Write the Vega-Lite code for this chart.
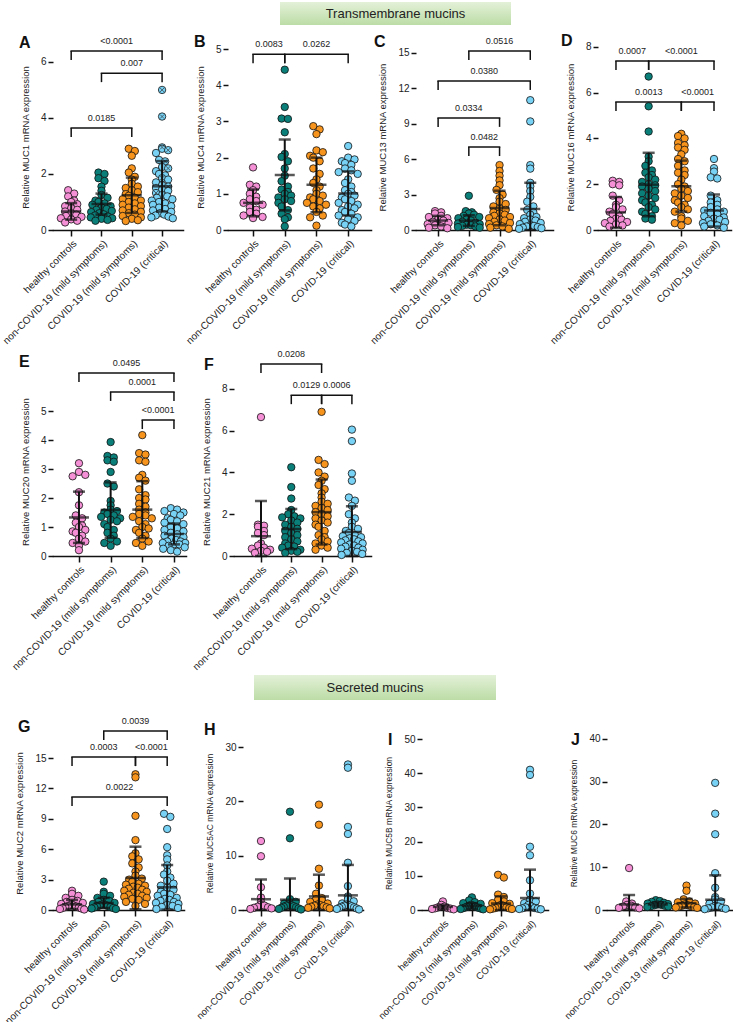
{
"$schema": "https://vega.github.io/schema/vega-lite/v6.json",
"background": "white",
"padding": {"left": 0, "top": 2, "right": 0, "bottom": 0},
"config": {
 "font": "Liberation Sans",
 "view": {"stroke": null},
 "axis": {"grid": false, "domainColor": "#111", "domainWidth": 1.5, "tickColor": "#111", "tickWidth": 1.5, "tickSize": 5, "labelColor": "#222", "labelFontSize": 10, "labelFont": "Liberation Sans", "titleFont": "Liberation Sans", "titleFontSize": 9.5, "titleFontWeight": "normal", "titleColor": "#222", "labelOverlap": false, "labelFlush": false, "labelPadding": 2},
 "axisX": {"labelAngle": -45, "tickSize": 6, "domain": true, "ticks": true, "domainCap": "square"},
 "axisY": {"domain": false, "titlePadding": 10},
 "title": {"fontSize": 16, "fontWeight": "bold", "color": "#111", "anchor": "start", "frame": "group", "offset": 0, "font": "Liberation Sans"}
},
"datasets": {
"st": [
{"p":"A","x":0,"y":0.66,"lo":0.37,"hi":0.96},{"p":"A","x":1,"y":0.93,"lo":0.55,"hi":1.3},{"p":"A","x":2,"y":1.24,"lo":0.61,"hi":1.87},{"p":"A","x":3,"y":1.56,"lo":0.66,"hi":2.46},
{"p":"B","x":0,"y":0.75,"lo":0.38,"hi":1.12},{"p":"B","x":1,"y":1.52,"lo":0.54,"hi":2.5},{"p":"B","x":2,"y":1.25,"lo":0.49,"hi":2.0},{"p":"B","x":3,"y":1.01,"lo":0.4,"hi":1.62},
{"p":"C","x":0,"y":0.8,"lo":0.4,"hi":1.2},{"p":"C","x":1,"y":0.8,"lo":0.35,"hi":1.25},{"p":"C","x":2,"y":1.86,"lo":0.4,"hi":3.33},{"p":"C","x":3,"y":1.78,"lo":0,"hi":4.0},
{"p":"D","x":0,"y":0.77,"lo":0.1,"hi":1.44},{"p":"D","x":1,"y":1.98,"lo":0.6,"hi":3.37},{"p":"D","x":2,"y":1.91,"lo":0.8,"hi":3.03},{"p":"D","x":3,"y":0.85,"lo":0.15,"hi":1.55},
{"p":"E","x":0,"y":1.33,"lo":0.45,"hi":2.22},{"p":"E","x":1,"y":1.59,"lo":0.63,"hi":2.54},{"p":"E","x":2,"y":1.6,"lo":0.62,"hi":2.58},{"p":"E","x":3,"y":0.76,"lo":0.4,"hi":1.12},
{"p":"F","x":0,"y":0.95,"lo":0,"hi":2.63},{"p":"F","x":1,"y":1.29,"lo":0.33,"hi":2.25},{"p":"F","x":2,"y":2.1,"lo":0.55,"hi":3.66},{"p":"F","x":3,"y":1.15,"lo":0,"hi":2.38},
{"p":"G","x":0,"y":0.55,"lo":0.1,"hi":1.0},{"p":"G","x":1,"y":0.7,"lo":0.2,"hi":1.2},{"p":"G","x":2,"y":3.16,"lo":0.07,"hi":6.25},{"p":"G","x":3,"y":2.24,"lo":0.04,"hi":4.44},
{"p":"H","x":0,"y":2.0,"lo":0,"hi":5.6},{"p":"H","x":1,"y":1.9,"lo":0,"hi":5.8},{"p":"H","x":2,"y":2.5,"lo":0,"hi":6.5},{"p":"H","x":3,"y":2.7,"lo":0,"hi":8.3},
{"p":"I","x":0,"y":0.9,"lo":0.2,"hi":1.5},{"p":"I","x":1,"y":1.2,"lo":0.4,"hi":2.0},{"p":"I","x":2,"y":1.9,"lo":0,"hi":4.0},{"p":"I","x":3,"y":3.5,"lo":0,"hi":11.8},
{"p":"J","x":0,"y":1.3,"lo":0,"hi":3.5},{"p":"J","x":1,"y":1.3,"lo":0.8,"hi":1.8},{"p":"J","x":2,"y":1.6,"lo":0.6,"hi":2.6},{"p":"J","x":3,"y":2.4,"lo":0,"hi":8.1}
],
"br": [
{"p":"A","a":0,"b":3,"y":6.39,"t":"<0.0001"},{"p":"A","a":1,"b":3,"y":5.6,"t":"0.007"},{"p":"A","a":0,"b":2,"y":3.64,"t":"0.0185"},
{"p":"B","a":0,"b":1,"y":4.86,"t":"0.0083"},{"p":"B","a":1,"b":3,"y":4.86,"t":"0.0262"},
{"p":"C","a":1,"b":3,"y":15.17,"t":"0.0516"},{"p":"C","a":0,"b":3,"y":12.63,"t":"0.0380"},{"p":"C","a":0,"b":2,"y":9.5,"t":"0.0334"},{"p":"C","a":1,"b":2,"y":7.03,"t":"0.0482"},
{"p":"D","a":0,"b":1,"y":7.38,"t":"0.0007"},{"p":"D","a":1,"b":3,"y":7.38,"t":"<0.0001"},{"p":"D","a":0,"b":2,"y":5.59,"t":"0.0013"},{"p":"D","a":2,"b":3,"y":5.59,"t":"<0.0001"},
{"p":"E","a":0,"b":3,"y":6.31,"t":"0.0495"},{"p":"E","a":1,"b":3,"y":5.66,"t":"0.0001"},{"p":"E","a":2,"b":3,"y":4.69,"t":"<0.0001"},
{"p":"F","a":0,"b":2,"y":9.19,"t":"0.0208"},{"p":"F","a":1,"b":2,"y":7.7,"t":"0.0129"},{"p":"F","a":2,"b":3,"y":7.7,"t":"0.0006"},
{"p":"G","a":1,"b":3,"y":17.67,"t":"0.0039"},{"p":"G","a":0,"b":2,"y":15.1,"t":"0.0003"},{"p":"G","a":2,"b":3,"y":15.1,"t":"<0.0001"},{"p":"G","a":0,"b":3,"y":11.15,"t":"0.0022"}
],
"pts": [
{"p":"A","g":0,"y":1.42},{"p":"A","g":0,"y":1.3},{"p":"A","g":0,"y":1.2},{"p":"A","g":0,"y":1.05},{"p":"A","g":0,"y":1.0},{"p":"A","g":0,"y":0.92},{"p":"A","g":0,"y":0.85},{"p":"A","g":0,"y":0.78},{"p":"A","g":0,"y":0.72},{"p":"A","g":0,"y":0.66},{"p":"A","g":0,"y":0.6},{"p":"A","g":0,"y":0.55},{"p":"A","g":0,"y":0.5},{"p":"A","g":0,"y":0.47},{"p":"A","g":0,"y":0.42},{"p":"A","g":0,"y":0.38},{"p":"A","g":0,"y":0.33},{"p":"A","g":0,"y":0.27},
{"p":"A","g":1,"y":2.05},{"p":"A","g":1,"y":2.0},{"p":"A","g":1,"y":1.85},{"p":"A","g":1,"y":1.75},{"p":"A","g":1,"y":1.55},{"p":"A","g":1,"y":1.4},{"p":"A","g":1,"y":1.25},{"p":"A","g":1,"y":1.15},{"p":"A","g":1,"y":1.05},{"p":"A","g":1,"y":1.0},{"p":"A","g":1,"y":0.95},{"p":"A","g":1,"y":0.9},{"p":"A","g":1,"y":0.85},{"p":"A","g":1,"y":0.8},{"p":"A","g":1,"y":0.75},{"p":"A","g":1,"y":0.72},{"p":"A","g":1,"y":0.68},{"p":"A","g":1,"y":0.64},{"p":"A","g":1,"y":0.6},{"p":"A","g":1,"y":0.56},{"p":"A","g":1,"y":0.52},{"p":"A","g":1,"y":0.48},{"p":"A","g":1,"y":0.45},{"p":"A","g":1,"y":0.42},{"p":"A","g":1,"y":0.4},{"p":"A","g":1,"y":0.36},{"p":"A","g":1,"y":0.33},
{"p":"A","g":2,"y":2.9},{"p":"A","g":2,"y":2.82},{"p":"A","g":2,"y":2.65},{"p":"A","g":2,"y":2.2},{"p":"A","g":2,"y":2.05},{"p":"A","g":2,"y":1.9},{"p":"A","g":2,"y":1.8},{"p":"A","g":2,"y":1.65},{"p":"A","g":2,"y":1.55},{"p":"A","g":2,"y":1.5},{"p":"A","g":2,"y":1.42},{"p":"A","g":2,"y":1.35},{"p":"A","g":2,"y":1.28},{"p":"A","g":2,"y":1.22},{"p":"A","g":2,"y":1.15},{"p":"A","g":2,"y":1.1},{"p":"A","g":2,"y":1.05},{"p":"A","g":2,"y":1.0},{"p":"A","g":2,"y":0.95},{"p":"A","g":2,"y":0.9},{"p":"A","g":2,"y":0.85},{"p":"A","g":2,"y":0.8},{"p":"A","g":2,"y":0.74},{"p":"A","g":2,"y":0.7},{"p":"A","g":2,"y":0.65},{"p":"A","g":2,"y":0.6},{"p":"A","g":2,"y":0.55},{"p":"A","g":2,"y":0.5},{"p":"A","g":2,"y":0.45},{"p":"A","g":2,"y":0.4},{"p":"A","g":2,"y":0.35},{"p":"A","g":2,"y":0.32},
{"p":"A","g":3,"y":5.0,"m":1},{"p":"A","g":3,"y":4.05,"m":1},{"p":"A","g":3,"y":2.95,"m":1},{"p":"A","g":3,"y":2.9},{"p":"A","g":3,"y":2.85,"m":1},{"p":"A","g":3,"y":2.75},{"p":"A","g":3,"y":2.5},{"p":"A","g":3,"y":2.45,"m":1},{"p":"A","g":3,"y":2.25},{"p":"A","g":3,"y":2.2,"m":1},{"p":"A","g":3,"y":2.1},{"p":"A","g":3,"y":2.0},{"p":"A","g":3,"y":1.95},{"p":"A","g":3,"y":1.85,"m":1},{"p":"A","g":3,"y":1.8},{"p":"A","g":3,"y":1.7},{"p":"A","g":3,"y":1.6},{"p":"A","g":3,"y":1.55,"m":1},{"p":"A","g":3,"y":1.5},{"p":"A","g":3,"y":1.45},{"p":"A","g":3,"y":1.4},{"p":"A","g":3,"y":1.32,"m":1},{"p":"A","g":3,"y":1.25},{"p":"A","g":3,"y":1.2},{"p":"A","g":3,"y":1.15},{"p":"A","g":3,"y":1.1},{"p":"A","g":3,"y":1.05},{"p":"A","g":3,"y":1.0},{"p":"A","g":3,"y":0.95},{"p":"A","g":3,"y":0.9},{"p":"A","g":3,"y":0.85},{"p":"A","g":3,"y":0.8},{"p":"A","g":3,"y":0.75},{"p":"A","g":3,"y":0.7},{"p":"A","g":3,"y":0.65},{"p":"A","g":3,"y":0.6},{"p":"A","g":3,"y":0.55},{"p":"A","g":3,"y":0.52},{"p":"A","g":3,"y":0.48},{"p":"A","g":3,"y":0.45},{"p":"A","g":3,"y":0.42},
{"p":"B","g":0,"y":1.73},{"p":"B","g":0,"y":1.25},{"p":"B","g":0,"y":1.2},{"p":"B","g":0,"y":1.1},{"p":"B","g":0,"y":1.0},{"p":"B","g":0,"y":0.92},{"p":"B","g":0,"y":0.85},{"p":"B","g":0,"y":0.8},{"p":"B","g":0,"y":0.75},{"p":"B","g":0,"y":0.7},{"p":"B","g":0,"y":0.62},{"p":"B","g":0,"y":0.56},{"p":"B","g":0,"y":0.5},{"p":"B","g":0,"y":0.45},{"p":"B","g":0,"y":0.4},{"p":"B","g":0,"y":0.36},{"p":"B","g":0,"y":0.33},
{"p":"B","g":1,"y":4.43},{"p":"B","g":1,"y":3.4},{"p":"B","g":1,"y":3.08},{"p":"B","g":1,"y":3.07},{"p":"B","g":1,"y":2.7},{"p":"B","g":1,"y":2.1},{"p":"B","g":1,"y":2.02},{"p":"B","g":1,"y":1.9},{"p":"B","g":1,"y":1.7},{"p":"B","g":1,"y":1.5},{"p":"B","g":1,"y":1.35},{"p":"B","g":1,"y":1.2},{"p":"B","g":1,"y":1.12},{"p":"B","g":1,"y":1.05},{"p":"B","g":1,"y":1.0},{"p":"B","g":1,"y":0.95},{"p":"B","g":1,"y":0.9},{"p":"B","g":1,"y":0.85},{"p":"B","g":1,"y":0.8},{"p":"B","g":1,"y":0.75},{"p":"B","g":1,"y":0.65},{"p":"B","g":1,"y":0.55},{"p":"B","g":1,"y":0.45},{"p":"B","g":1,"y":0.35},{"p":"B","g":1,"y":0.3},{"p":"B","g":1,"y":0.1},
{"p":"B","g":2,"y":2.87},{"p":"B","g":2,"y":2.78},{"p":"B","g":2,"y":2.65},{"p":"B","g":2,"y":2.2},{"p":"B","g":2,"y":2.15},{"p":"B","g":2,"y":2.05},{"p":"B","g":2,"y":2.0},{"p":"B","g":2,"y":1.9},{"p":"B","g":2,"y":1.7},{"p":"B","g":2,"y":1.55},{"p":"B","g":2,"y":1.4},{"p":"B","g":2,"y":1.3},{"p":"B","g":2,"y":1.2},{"p":"B","g":2,"y":1.1},{"p":"B","g":2,"y":1.0},{"p":"B","g":2,"y":0.95},{"p":"B","g":2,"y":0.9},{"p":"B","g":2,"y":0.85},{"p":"B","g":2,"y":0.8},{"p":"B","g":2,"y":0.75},{"p":"B","g":2,"y":0.7},{"p":"B","g":2,"y":0.65},{"p":"B","g":2,"y":0.6},{"p":"B","g":2,"y":0.5},{"p":"B","g":2,"y":0.4},{"p":"B","g":2,"y":0.35},{"p":"B","g":2,"y":0.12},
{"p":"B","g":3,"y":2.32},{"p":"B","g":3,"y":2.0},{"p":"B","g":3,"y":1.95},{"p":"B","g":3,"y":1.9},{"p":"B","g":3,"y":1.85},{"p":"B","g":3,"y":1.8},{"p":"B","g":3,"y":1.7},{"p":"B","g":3,"y":1.65},{"p":"B","g":3,"y":1.6},{"p":"B","g":3,"y":1.55},{"p":"B","g":3,"y":1.4},{"p":"B","g":3,"y":1.3},{"p":"B","g":3,"y":1.2},{"p":"B","g":3,"y":1.1},{"p":"B","g":3,"y":1.05},{"p":"B","g":3,"y":1.0},{"p":"B","g":3,"y":0.95},{"p":"B","g":3,"y":0.9},{"p":"B","g":3,"y":0.85},{"p":"B","g":3,"y":0.8},{"p":"B","g":3,"y":0.75},{"p":"B","g":3,"y":0.7},{"p":"B","g":3,"y":0.65},{"p":"B","g":3,"y":0.6},{"p":"B","g":3,"y":0.55},{"p":"B","g":3,"y":0.5},{"p":"B","g":3,"y":0.45},{"p":"B","g":3,"y":0.4},{"p":"B","g":3,"y":0.35},{"p":"B","g":3,"y":0.3},{"p":"B","g":3,"y":0.25},{"p":"B","g":3,"y":0.2},{"p":"B","g":3,"y":0.15},{"p":"B","g":3,"y":0.1},
{"p":"C","g":0,"y":1.6},{"p":"C","g":0,"y":1.5},{"p":"C","g":0,"y":1.4},{"p":"C","g":0,"y":1.2},{"p":"C","g":0,"y":1.1},{"p":"C","g":0,"y":1.0},{"p":"C","g":0,"y":0.9},{"p":"C","g":0,"y":0.8},{"p":"C","g":0,"y":0.7},{"p":"C","g":0,"y":0.6},{"p":"C","g":0,"y":0.5},{"p":"C","g":0,"y":0.4},{"p":"C","g":0,"y":0.3},{"p":"C","g":0,"y":0.2},{"p":"C","g":0,"y":0.15},
{"p":"C","g":1,"y":2.9},{"p":"C","g":1,"y":1.6},{"p":"C","g":1,"y":1.5},{"p":"C","g":1,"y":1.4},{"p":"C","g":1,"y":1.3},{"p":"C","g":1,"y":1.2},{"p":"C","g":1,"y":1.1},{"p":"C","g":1,"y":1.0},{"p":"C","g":1,"y":0.9},{"p":"C","g":1,"y":0.8},{"p":"C","g":1,"y":0.7},{"p":"C","g":1,"y":0.6},{"p":"C","g":1,"y":0.55},{"p":"C","g":1,"y":0.5},{"p":"C","g":1,"y":0.45},{"p":"C","g":1,"y":0.4},{"p":"C","g":1,"y":0.35},{"p":"C","g":1,"y":0.3},{"p":"C","g":1,"y":0.25},{"p":"C","g":1,"y":0.2},
{"p":"C","g":2,"y":5.5},{"p":"C","g":2,"y":5.0},{"p":"C","g":2,"y":4.6},{"p":"C","g":2,"y":4.2},{"p":"C","g":2,"y":3.8},{"p":"C","g":2,"y":3.4},{"p":"C","g":2,"y":3.0},{"p":"C","g":2,"y":2.7},{"p":"C","g":2,"y":2.4},{"p":"C","g":2,"y":2.2},{"p":"C","g":2,"y":2.0},{"p":"C","g":2,"y":1.8},{"p":"C","g":2,"y":1.7},{"p":"C","g":2,"y":1.5},{"p":"C","g":2,"y":1.4},{"p":"C","g":2,"y":1.3},{"p":"C","g":2,"y":1.2},{"p":"C","g":2,"y":1.1},{"p":"C","g":2,"y":1.0},{"p":"C","g":2,"y":0.9},{"p":"C","g":2,"y":0.8},{"p":"C","g":2,"y":0.7},{"p":"C","g":2,"y":0.6},{"p":"C","g":2,"y":0.5},{"p":"C","g":2,"y":0.4},{"p":"C","g":2,"y":0.3},{"p":"C","g":2,"y":0.2},{"p":"C","g":2,"y":0.1},
{"p":"C","g":3,"y":11.0},{"p":"C","g":3,"y":9.2},{"p":"C","g":3,"y":5.5},{"p":"C","g":3,"y":5.2},{"p":"C","g":3,"y":4.0},{"p":"C","g":3,"y":3.7},{"p":"C","g":3,"y":3.3},{"p":"C","g":3,"y":2.8},{"p":"C","g":3,"y":2.4},{"p":"C","g":3,"y":2.0},{"p":"C","g":3,"y":1.7},{"p":"C","g":3,"y":1.5},{"p":"C","g":3,"y":1.3},{"p":"C","g":3,"y":1.1},{"p":"C","g":3,"y":1.0},{"p":"C","g":3,"y":0.9},{"p":"C","g":3,"y":0.8},{"p":"C","g":3,"y":0.7},{"p":"C","g":3,"y":0.6},{"p":"C","g":3,"y":0.5},{"p":"C","g":3,"y":0.4},{"p":"C","g":3,"y":0.35},{"p":"C","g":3,"y":0.3},{"p":"C","g":3,"y":0.25},{"p":"C","g":3,"y":0.2},{"p":"C","g":3,"y":0.15},{"p":"C","g":3,"y":0.1},
{"p":"D","g":0,"y":2.15},{"p":"D","g":0,"y":2.1},{"p":"D","g":0,"y":2.0},{"p":"D","g":0,"y":1.95},{"p":"D","g":0,"y":1.5},{"p":"D","g":0,"y":1.3},{"p":"D","g":0,"y":1.1},{"p":"D","g":0,"y":1.0},{"p":"D","g":0,"y":0.9},{"p":"D","g":0,"y":0.8},{"p":"D","g":0,"y":0.7},{"p":"D","g":0,"y":0.6},{"p":"D","g":0,"y":0.5},{"p":"D","g":0,"y":0.45},{"p":"D","g":0,"y":0.4},{"p":"D","g":0,"y":0.35},{"p":"D","g":0,"y":0.3},{"p":"D","g":0,"y":0.25},{"p":"D","g":0,"y":0.2},{"p":"D","g":0,"y":0.15},
{"p":"D","g":1,"y":6.7},{"p":"D","g":1,"y":5.4},{"p":"D","g":1,"y":4.3},{"p":"D","g":1,"y":3.2},{"p":"D","g":1,"y":3.0},{"p":"D","g":1,"y":2.8},{"p":"D","g":1,"y":2.6},{"p":"D","g":1,"y":2.5},{"p":"D","g":1,"y":2.4},{"p":"D","g":1,"y":2.3},{"p":"D","g":1,"y":2.2},{"p":"D","g":1,"y":2.1},{"p":"D","g":1,"y":2.0},{"p":"D","g":1,"y":1.95},{"p":"D","g":1,"y":1.9},{"p":"D","g":1,"y":1.8},{"p":"D","g":1,"y":1.7},{"p":"D","g":1,"y":1.6},{"p":"D","g":1,"y":1.5},{"p":"D","g":1,"y":1.4},{"p":"D","g":1,"y":1.3},{"p":"D","g":1,"y":1.2},{"p":"D","g":1,"y":1.1},{"p":"D","g":1,"y":1.0},{"p":"D","g":1,"y":0.9},{"p":"D","g":1,"y":0.8},{"p":"D","g":1,"y":0.7},{"p":"D","g":1,"y":0.6},{"p":"D","g":1,"y":0.5},{"p":"D","g":1,"y":0.45},
{"p":"D","g":2,"y":4.2},{"p":"D","g":2,"y":4.1},{"p":"D","g":2,"y":4.0},{"p":"D","g":2,"y":3.8},{"p":"D","g":2,"y":3.7},{"p":"D","g":2,"y":3.6},{"p":"D","g":2,"y":3.5},{"p":"D","g":2,"y":3.3},{"p":"D","g":2,"y":3.1},{"p":"D","g":2,"y":3.0},{"p":"D","g":2,"y":2.8},{"p":"D","g":2,"y":2.6},{"p":"D","g":2,"y":2.5},{"p":"D","g":2,"y":2.4},{"p":"D","g":2,"y":2.2},{"p":"D","g":2,"y":2.0},{"p":"D","g":2,"y":1.9},{"p":"D","g":2,"y":1.8},{"p":"D","g":2,"y":1.7},{"p":"D","g":2,"y":1.6},{"p":"D","g":2,"y":1.5},{"p":"D","g":2,"y":1.4},{"p":"D","g":2,"y":1.3},{"p":"D","g":2,"y":1.2},{"p":"D","g":2,"y":1.1},{"p":"D","g":2,"y":1.0},{"p":"D","g":2,"y":0.9},{"p":"D","g":2,"y":0.8},{"p":"D","g":2,"y":0.6},{"p":"D","g":2,"y":0.5},{"p":"D","g":2,"y":0.4},{"p":"D","g":2,"y":0.3},{"p":"D","g":2,"y":0.2},
{"p":"D","g":3,"y":3.1},{"p":"D","g":3,"y":2.7},{"p":"D","g":3,"y":2.55},{"p":"D","g":3,"y":2.3},{"p":"D","g":3,"y":2.25},{"p":"D","g":3,"y":1.5},{"p":"D","g":3,"y":1.3},{"p":"D","g":3,"y":1.2},{"p":"D","g":3,"y":1.1},{"p":"D","g":3,"y":1.0},{"p":"D","g":3,"y":0.9},{"p":"D","g":3,"y":0.85},{"p":"D","g":3,"y":0.8},{"p":"D","g":3,"y":0.75},{"p":"D","g":3,"y":0.7},{"p":"D","g":3,"y":0.6},{"p":"D","g":3,"y":0.55},{"p":"D","g":3,"y":0.5},{"p":"D","g":3,"y":0.45},{"p":"D","g":3,"y":0.4},{"p":"D","g":3,"y":0.35},{"p":"D","g":3,"y":0.3},{"p":"D","g":3,"y":0.25},{"p":"D","g":3,"y":0.2},{"p":"D","g":3,"y":0.15},{"p":"D","g":3,"y":0.1},
{"p":"E","g":0,"y":3.2},{"p":"E","g":0,"y":2.9},{"p":"E","g":0,"y":2.8},{"p":"E","g":0,"y":2.75},{"p":"E","g":0,"y":2.2},{"p":"E","g":0,"y":1.75},{"p":"E","g":0,"y":1.4},{"p":"E","g":0,"y":1.3},{"p":"E","g":0,"y":1.15},{"p":"E","g":0,"y":1.05},{"p":"E","g":0,"y":1.0},{"p":"E","g":0,"y":0.9},{"p":"E","g":0,"y":0.85},{"p":"E","g":0,"y":0.8},{"p":"E","g":0,"y":0.7},{"p":"E","g":0,"y":0.6},{"p":"E","g":0,"y":0.5},{"p":"E","g":0,"y":0.45},{"p":"E","g":0,"y":0.35},{"p":"E","g":0,"y":0.2},
{"p":"E","g":1,"y":3.93},{"p":"E","g":1,"y":3.45},{"p":"E","g":1,"y":3.4},{"p":"E","g":1,"y":3.3},{"p":"E","g":1,"y":3.25},{"p":"E","g":1,"y":2.9},{"p":"E","g":1,"y":2.5},{"p":"E","g":1,"y":2.4},{"p":"E","g":1,"y":1.9},{"p":"E","g":1,"y":1.75},{"p":"E","g":1,"y":1.6},{"p":"E","g":1,"y":1.55},{"p":"E","g":1,"y":1.5},{"p":"E","g":1,"y":1.45},{"p":"E","g":1,"y":1.4},{"p":"E","g":1,"y":1.35},{"p":"E","g":1,"y":1.3},{"p":"E","g":1,"y":1.25},{"p":"E","g":1,"y":1.2},{"p":"E","g":1,"y":1.1},{"p":"E","g":1,"y":1.0},{"p":"E","g":1,"y":0.9},{"p":"E","g":1,"y":0.8},{"p":"E","g":1,"y":0.7},{"p":"E","g":1,"y":0.6},{"p":"E","g":1,"y":0.5},{"p":"E","g":1,"y":0.45},{"p":"E","g":1,"y":0.35},
{"p":"E","g":2,"y":4.17},{"p":"E","g":2,"y":3.55},{"p":"E","g":2,"y":3.5},{"p":"E","g":2,"y":3.3},{"p":"E","g":2,"y":3.25},{"p":"E","g":2,"y":2.8},{"p":"E","g":2,"y":2.7},{"p":"E","g":2,"y":2.6},{"p":"E","g":2,"y":2.3},{"p":"E","g":2,"y":2.1},{"p":"E","g":2,"y":2.0},{"p":"E","g":2,"y":1.95},{"p":"E","g":2,"y":1.8},{"p":"E","g":2,"y":1.7},{"p":"E","g":2,"y":1.6},{"p":"E","g":2,"y":1.5},{"p":"E","g":2,"y":1.45},{"p":"E","g":2,"y":1.4},{"p":"E","g":2,"y":1.35},{"p":"E","g":2,"y":1.3},{"p":"E","g":2,"y":1.2},{"p":"E","g":2,"y":1.1},{"p":"E","g":2,"y":1.0},{"p":"E","g":2,"y":0.95},{"p":"E","g":2,"y":0.9},{"p":"E","g":2,"y":0.8},{"p":"E","g":2,"y":0.7},{"p":"E","g":2,"y":0.6},{"p":"E","g":2,"y":0.5},{"p":"E","g":2,"y":0.45},{"p":"E","g":2,"y":0.35},
{"p":"E","g":3,"y":1.65},{"p":"E","g":3,"y":1.6},{"p":"E","g":3,"y":1.55},{"p":"E","g":3,"y":1.5},{"p":"E","g":3,"y":1.45},{"p":"E","g":3,"y":1.4},{"p":"E","g":3,"y":1.3},{"p":"E","g":3,"y":1.25},{"p":"E","g":3,"y":1.2},{"p":"E","g":3,"y":1.15},{"p":"E","g":3,"y":1.1},{"p":"E","g":3,"y":1.0},{"p":"E","g":3,"y":0.95},{"p":"E","g":3,"y":0.9},{"p":"E","g":3,"y":0.85},{"p":"E","g":3,"y":0.8},{"p":"E","g":3,"y":0.75},{"p":"E","g":3,"y":0.7},{"p":"E","g":3,"y":0.65},{"p":"E","g":3,"y":0.6},{"p":"E","g":3,"y":0.55},{"p":"E","g":3,"y":0.5},{"p":"E","g":3,"y":0.5},{"p":"E","g":3,"y":0.45},{"p":"E","g":3,"y":0.45},{"p":"E","g":3,"y":0.4},{"p":"E","g":3,"y":0.4},{"p":"E","g":3,"y":0.35},{"p":"E","g":3,"y":0.3},{"p":"E","g":3,"y":0.25},{"p":"E","g":3,"y":0.2},{"p":"E","g":3,"y":0.15},
{"p":"F","g":0,"y":6.65},{"p":"F","g":0,"y":1.5},{"p":"F","g":0,"y":1.45},{"p":"F","g":0,"y":1.4},{"p":"F","g":0,"y":1.2},{"p":"F","g":0,"y":1.1},{"p":"F","g":0,"y":1.0},{"p":"F","g":0,"y":0.6},{"p":"F","g":0,"y":0.5},{"p":"F","g":0,"y":0.4},{"p":"F","g":0,"y":0.35},{"p":"F","g":0,"y":0.3},{"p":"F","g":0,"y":0.25},{"p":"F","g":0,"y":0.2},{"p":"F","g":0,"y":0.15},
{"p":"F","g":1,"y":4.25},{"p":"F","g":1,"y":3.3},{"p":"F","g":1,"y":2.75},{"p":"F","g":1,"y":2.2},{"p":"F","g":1,"y":2.0},{"p":"F","g":1,"y":1.9},{"p":"F","g":1,"y":1.85},{"p":"F","g":1,"y":1.8},{"p":"F","g":1,"y":1.7},{"p":"F","g":1,"y":1.6},{"p":"F","g":1,"y":1.5},{"p":"F","g":1,"y":1.4},{"p":"F","g":1,"y":1.3},{"p":"F","g":1,"y":1.2},{"p":"F","g":1,"y":1.1},{"p":"F","g":1,"y":1.0},{"p":"F","g":1,"y":0.9},{"p":"F","g":1,"y":0.8},{"p":"F","g":1,"y":0.7},{"p":"F","g":1,"y":0.6},{"p":"F","g":1,"y":0.5},{"p":"F","g":1,"y":0.45},{"p":"F","g":1,"y":0.4},{"p":"F","g":1,"y":0.3},{"p":"F","g":1,"y":0.25},{"p":"F","g":1,"y":0.2},{"p":"F","g":1,"y":0.15},
{"p":"F","g":2,"y":6.9},{"p":"F","g":2,"y":4.6},{"p":"F","g":2,"y":4.4},{"p":"F","g":2,"y":4.0},{"p":"F","g":2,"y":3.8},{"p":"F","g":2,"y":3.6},{"p":"F","g":2,"y":3.4},{"p":"F","g":2,"y":3.2},{"p":"F","g":2,"y":3.0},{"p":"F","g":2,"y":2.8},{"p":"F","g":2,"y":2.6},{"p":"F","g":2,"y":2.5},{"p":"F","g":2,"y":2.4},{"p":"F","g":2,"y":2.3},{"p":"F","g":2,"y":2.2},{"p":"F","g":2,"y":2.1},{"p":"F","g":2,"y":2.0},{"p":"F","g":2,"y":1.9},{"p":"F","g":2,"y":1.8},{"p":"F","g":2,"y":1.7},{"p":"F","g":2,"y":1.6},{"p":"F","g":2,"y":1.5},{"p":"F","g":2,"y":1.4},{"p":"F","g":2,"y":1.2},{"p":"F","g":2,"y":1.0},{"p":"F","g":2,"y":0.9},{"p":"F","g":2,"y":0.8},{"p":"F","g":2,"y":0.7},{"p":"F","g":2,"y":0.6},{"p":"F","g":2,"y":0.5},{"p":"F","g":2,"y":0.4},{"p":"F","g":2,"y":0.3},
{"p":"F","g":3,"y":6.05},{"p":"F","g":3,"y":5.5},{"p":"F","g":3,"y":3.95},{"p":"F","g":3,"y":3.6},{"p":"F","g":3,"y":2.8},{"p":"F","g":3,"y":2.65},{"p":"F","g":3,"y":2.4},{"p":"F","g":3,"y":2.0},{"p":"F","g":3,"y":1.8},{"p":"F","g":3,"y":1.6},{"p":"F","g":3,"y":1.4},{"p":"F","g":3,"y":1.3},{"p":"F","g":3,"y":1.2},{"p":"F","g":3,"y":1.1},{"p":"F","g":3,"y":1.0},{"p":"F","g":3,"y":0.95},{"p":"F","g":3,"y":0.9},{"p":"F","g":3,"y":0.85},{"p":"F","g":3,"y":0.8},{"p":"F","g":3,"y":0.75},{"p":"F","g":3,"y":0.7},{"p":"F","g":3,"y":0.65},{"p":"F","g":3,"y":0.6},{"p":"F","g":3,"y":0.55},{"p":"F","g":3,"y":0.5},{"p":"F","g":3,"y":0.45},{"p":"F","g":3,"y":0.4},{"p":"F","g":3,"y":0.35},{"p":"F","g":3,"y":0.3},{"p":"F","g":3,"y":0.25},{"p":"F","g":3,"y":0.2},{"p":"F","g":3,"y":0.15},{"p":"F","g":3,"y":0.1},{"p":"F","g":3,"y":0.05},
{"p":"G","g":0,"y":1.9},{"p":"G","g":0,"y":1.6},{"p":"G","g":0,"y":1.4},{"p":"G","g":0,"y":1.2},{"p":"G","g":0,"y":1.0},{"p":"G","g":0,"y":0.9},{"p":"G","g":0,"y":0.8},{"p":"G","g":0,"y":0.7},{"p":"G","g":0,"y":0.6},{"p":"G","g":0,"y":0.5},{"p":"G","g":0,"y":0.45},{"p":"G","g":0,"y":0.4},{"p":"G","g":0,"y":0.35},{"p":"G","g":0,"y":0.3},{"p":"G","g":0,"y":0.25},{"p":"G","g":0,"y":0.2},{"p":"G","g":0,"y":0.15},{"p":"G","g":0,"y":0.1},{"p":"G","g":0,"y":0.05},
{"p":"G","g":1,"y":2.8},{"p":"G","g":1,"y":1.8},{"p":"G","g":1,"y":1.6},{"p":"G","g":1,"y":1.4},{"p":"G","g":1,"y":1.2},{"p":"G","g":1,"y":1.0},{"p":"G","g":1,"y":0.9},{"p":"G","g":1,"y":0.8},{"p":"G","g":1,"y":0.7},{"p":"G","g":1,"y":0.6},{"p":"G","g":1,"y":0.55},{"p":"G","g":1,"y":0.5},{"p":"G","g":1,"y":0.45},{"p":"G","g":1,"y":0.4},{"p":"G","g":1,"y":0.35},{"p":"G","g":1,"y":0.3},{"p":"G","g":1,"y":0.25},{"p":"G","g":1,"y":0.2},{"p":"G","g":1,"y":0.15},{"p":"G","g":1,"y":0.1},
{"p":"G","g":2,"y":13.4},{"p":"G","g":2,"y":13.1},{"p":"G","g":2,"y":9.3},{"p":"G","g":2,"y":6.9},{"p":"G","g":2,"y":5.6},{"p":"G","g":2,"y":5.3},{"p":"G","g":2,"y":5.0},{"p":"G","g":2,"y":4.6},{"p":"G","g":2,"y":4.2},{"p":"G","g":2,"y":3.8},{"p":"G","g":2,"y":3.4},{"p":"G","g":2,"y":3.1},{"p":"G","g":2,"y":3.0},{"p":"G","g":2,"y":2.8},{"p":"G","g":2,"y":2.6},{"p":"G","g":2,"y":2.5},{"p":"G","g":2,"y":2.4},{"p":"G","g":2,"y":2.3},{"p":"G","g":2,"y":2.2},{"p":"G","g":2,"y":2.1},{"p":"G","g":2,"y":2.0},{"p":"G","g":2,"y":1.9},{"p":"G","g":2,"y":1.8},{"p":"G","g":2,"y":1.7},{"p":"G","g":2,"y":1.6},{"p":"G","g":2,"y":1.5},{"p":"G","g":2,"y":1.4},{"p":"G","g":2,"y":1.3},{"p":"G","g":2,"y":1.2},{"p":"G","g":2,"y":1.1},{"p":"G","g":2,"y":1.0},{"p":"G","g":2,"y":0.8},{"p":"G","g":2,"y":0.6},{"p":"G","g":2,"y":0.4},
{"p":"G","g":3,"y":9.5},{"p":"G","g":3,"y":9.2},{"p":"G","g":3,"y":8.0},{"p":"G","g":3,"y":6.2},{"p":"G","g":3,"y":5.4},{"p":"G","g":3,"y":5.0},{"p":"G","g":3,"y":4.4},{"p":"G","g":3,"y":3.8},{"p":"G","g":3,"y":3.5},{"p":"G","g":3,"y":3.2},{"p":"G","g":3,"y":2.9},{"p":"G","g":3,"y":2.6},{"p":"G","g":3,"y":2.4},{"p":"G","g":3,"y":2.2},{"p":"G","g":3,"y":2.0},{"p":"G","g":3,"y":1.8},{"p":"G","g":3,"y":1.6},{"p":"G","g":3,"y":1.5},{"p":"G","g":3,"y":1.4},{"p":"G","g":3,"y":1.2},{"p":"G","g":3,"y":1.1},{"p":"G","g":3,"y":1.0},{"p":"G","g":3,"y":0.9},{"p":"G","g":3,"y":0.8},{"p":"G","g":3,"y":0.7},{"p":"G","g":3,"y":0.6},{"p":"G","g":3,"y":0.5},{"p":"G","g":3,"y":0.4},{"p":"G","g":3,"y":0.3},{"p":"G","g":3,"y":0.2},{"p":"G","g":3,"y":0.1},
{"p":"H","g":0,"y":12.7},{"p":"H","g":0,"y":9.9},{"p":"H","g":0,"y":4.2},{"p":"H","g":0,"y":2.3},{"p":"H","g":0,"y":1.5},{"p":"H","g":0,"y":1.0},{"p":"H","g":0,"y":0.8},{"p":"H","g":0,"y":0.6},{"p":"H","g":0,"y":0.5},{"p":"H","g":0,"y":0.4},{"p":"H","g":0,"y":0.3},{"p":"H","g":0,"y":0.2},
{"p":"H","g":1,"y":18.1},{"p":"H","g":1,"y":13.2},{"p":"H","g":1,"y":2.0},{"p":"H","g":1,"y":1.5},{"p":"H","g":1,"y":1.2},{"p":"H","g":1,"y":1.0},{"p":"H","g":1,"y":0.9},{"p":"H","g":1,"y":0.8},{"p":"H","g":1,"y":0.7},{"p":"H","g":1,"y":0.6},{"p":"H","g":1,"y":0.5},{"p":"H","g":1,"y":0.4},{"p":"H","g":1,"y":0.3},{"p":"H","g":1,"y":0.2},{"p":"H","g":1,"y":0.1},
{"p":"H","g":2,"y":19.4},{"p":"H","g":2,"y":15.7},{"p":"H","g":2,"y":7.6},{"p":"H","g":2,"y":4.5},{"p":"H","g":2,"y":3.0},{"p":"H","g":2,"y":2.2},{"p":"H","g":2,"y":2.0},{"p":"H","g":2,"y":1.8},{"p":"H","g":2,"y":1.5},{"p":"H","g":2,"y":1.2},{"p":"H","g":2,"y":1.0},{"p":"H","g":2,"y":0.9},{"p":"H","g":2,"y":0.8},{"p":"H","g":2,"y":0.7},{"p":"H","g":2,"y":0.6},{"p":"H","g":2,"y":0.5},{"p":"H","g":2,"y":0.4},{"p":"H","g":2,"y":0.3},
{"p":"H","g":3,"y":26.8},{"p":"H","g":3,"y":26.2},{"p":"H","g":3,"y":15.3},{"p":"H","g":3,"y":14.0},{"p":"H","g":3,"y":8.7},{"p":"H","g":3,"y":4.4},{"p":"H","g":3,"y":2.5},{"p":"H","g":3,"y":2.0},{"p":"H","g":3,"y":1.6},{"p":"H","g":3,"y":1.2},{"p":"H","g":3,"y":1.0},{"p":"H","g":3,"y":0.9},{"p":"H","g":3,"y":0.8},{"p":"H","g":3,"y":0.7},{"p":"H","g":3,"y":0.6},{"p":"H","g":3,"y":0.5},{"p":"H","g":3,"y":0.4},{"p":"H","g":3,"y":0.3},{"p":"H","g":3,"y":0.2},{"p":"H","g":3,"y":0.1},
{"p":"I","g":0,"y":2.5},{"p":"I","g":0,"y":1.5},{"p":"I","g":0,"y":1.0},{"p":"I","g":0,"y":0.8},{"p":"I","g":0,"y":0.6},{"p":"I","g":0,"y":0.5},{"p":"I","g":0,"y":0.4},{"p":"I","g":0,"y":0.3},{"p":"I","g":0,"y":0.2},
{"p":"I","g":1,"y":3.7},{"p":"I","g":1,"y":2.8},{"p":"I","g":1,"y":2.3},{"p":"I","g":1,"y":2.0},{"p":"I","g":1,"y":1.8},{"p":"I","g":1,"y":1.5},{"p":"I","g":1,"y":1.3},{"p":"I","g":1,"y":1.1},{"p":"I","g":1,"y":1.0},{"p":"I","g":1,"y":0.9},{"p":"I","g":1,"y":0.8},{"p":"I","g":1,"y":0.7},{"p":"I","g":1,"y":0.6},{"p":"I","g":1,"y":0.5},{"p":"I","g":1,"y":0.4},{"p":"I","g":1,"y":0.3},{"p":"I","g":1,"y":0.2},
{"p":"I","g":2,"y":10.3},{"p":"I","g":2,"y":9.5},{"p":"I","g":2,"y":4.5},{"p":"I","g":2,"y":3.8},{"p":"I","g":2,"y":3.0},{"p":"I","g":2,"y":2.5},{"p":"I","g":2,"y":2.0},{"p":"I","g":2,"y":1.8},{"p":"I","g":2,"y":1.5},{"p":"I","g":2,"y":1.2},{"p":"I","g":2,"y":1.0},{"p":"I","g":2,"y":0.8},{"p":"I","g":2,"y":0.6},{"p":"I","g":2,"y":0.5},{"p":"I","g":2,"y":0.4},{"p":"I","g":2,"y":0.3},{"p":"I","g":2,"y":0.2},
{"p":"I","g":3,"y":41.0},{"p":"I","g":3,"y":39.5},{"p":"I","g":3,"y":18.5},{"p":"I","g":3,"y":16.0},{"p":"I","g":3,"y":8.7},{"p":"I","g":3,"y":4.8},{"p":"I","g":3,"y":3.0},{"p":"I","g":3,"y":2.5},{"p":"I","g":3,"y":2.0},{"p":"I","g":3,"y":1.5},{"p":"I","g":3,"y":1.0},{"p":"I","g":3,"y":0.8},{"p":"I","g":3,"y":0.6},{"p":"I","g":3,"y":0.5},{"p":"I","g":3,"y":0.4},{"p":"I","g":3,"y":0.3},{"p":"I","g":3,"y":0.2},
{"p":"J","g":0,"y":9.8},{"p":"J","g":0,"y":2.0},{"p":"J","g":0,"y":1.5},{"p":"J","g":0,"y":1.2},{"p":"J","g":0,"y":1.0},{"p":"J","g":0,"y":0.8},{"p":"J","g":0,"y":0.6},{"p":"J","g":0,"y":0.5},{"p":"J","g":0,"y":0.4},
{"p":"J","g":1,"y":2.3},{"p":"J","g":1,"y":2.1},{"p":"J","g":1,"y":1.9},{"p":"J","g":1,"y":1.7},{"p":"J","g":1,"y":1.5},{"p":"J","g":1,"y":1.4},{"p":"J","g":1,"y":1.3},{"p":"J","g":1,"y":1.2},{"p":"J","g":1,"y":1.1},{"p":"J","g":1,"y":1.0},{"p":"J","g":1,"y":0.9},{"p":"J","g":1,"y":0.8},{"p":"J","g":1,"y":0.7},
{"p":"J","g":2,"y":5.7},{"p":"J","g":2,"y":4.5},{"p":"J","g":2,"y":2.5},{"p":"J","g":2,"y":2.0},{"p":"J","g":2,"y":1.8},{"p":"J","g":2,"y":1.5},{"p":"J","g":2,"y":1.3},{"p":"J","g":2,"y":1.1},{"p":"J","g":2,"y":1.0},{"p":"J","g":2,"y":0.9},{"p":"J","g":2,"y":0.8},{"p":"J","g":2,"y":0.7},{"p":"J","g":2,"y":0.6},{"p":"J","g":2,"y":0.5},
{"p":"J","g":3,"y":29.7},{"p":"J","g":3,"y":22.5},{"p":"J","g":3,"y":17.7},{"p":"J","g":3,"y":8.6},{"p":"J","g":3,"y":5.2},{"p":"J","g":3,"y":3.0},{"p":"J","g":3,"y":2.5},{"p":"J","g":3,"y":2.0},{"p":"J","g":3,"y":1.5},{"p":"J","g":3,"y":1.0},{"p":"J","g":3,"y":0.8},{"p":"J","g":3,"y":0.6},{"p":"J","g":3,"y":0.5},{"p":"J","g":3,"y":0.4},{"p":"J","g":3,"y":0.3},{"p":"J","g":3,"y":0.2}
]
},
"spacing": 3,
"vconcat": [
{"spacing": 7, "vconcat": [
 {"spacing": 0, "hconcat": [
  {"width": 227, "height": 23, "data": {"values": []}, "mark": {"type": "point", "opacity": 0}},
  {"width": 231, "height": 23, "data": {"values": [{"t": "Transmembrane mucins"}]}, "layer": [
   {"mark": {"type": "rect", "color": {"gradient": "linear", "x1": 0, "y1": 0, "x2": 0, "y2": 1, "stops": [{"offset": 0, "color": "#e3f1d8"}, {"offset": 1, "color": "#bcdca6"}]}}, "encoding": {"x": {"value": 0}, "x2": {"value": "width"}, "y": {"value": 0}, "y2": {"value": "height"}}},
   {"mark": {"type": "text", "fontSize": 13, "color": "#222"}, "encoding": {"text": {"field": "t"}}}
  ]}
 ]},
 {"spacing": 4, "vconcat": [
  {"spacing": 45, "bounds": "flush", "hconcat": [
   {"width": 130, "height": 186, "title": {"text": "A", "dx": -34, "dy": 18},
    "encoding": {"x": {"field": "x", "type": "quantitative", "scale": {"domain": [-0.6, 3.69], "nice": false, "zero": false}, "axis": {"values": [0,1,2,3], "title": null, "labelExpr": "['healthy controls','non-COVID-19 (mild symptoms)','COVID-19 (mild symptoms)','COVID-19 (critical)'][datum.value]"}},
                 "y": {"field": "y", "type": "quantitative", "scale": {"domain": [0, 6.64], "nice": false, "zero": false}, "axis": {"values": [0,2,4,6], "title": "Relative MUC1 mRNA expression"}}},
    "layer": [
     {"data": {"values": [{"v": 0}]}, "mark": {"type": "rule", "strokeWidth": 1.5, "color": "#111"}, "encoding": {"x": {"value": 0}, "y": {"datum": 0, "type": "quantitative"}, "y2": {"datum": 6}}},
     {"data": {"name": "pts"}, "transform": [{"filter": "datum.p=='A'"}, {"calculate": "floor(datum.y/0.21)", "as": "b"}, {"window": [{"op": "row_number", "as": "r"}, {"op": "count", "as": "n"}], "groupby": ["g", "b"], "frame": [null, null]}, {"calculate": "datum.g+((datum.r%2==0?1:-1)*floor(datum.r/2)-(datum.n%2==0?0.5:0))*min(0.2,0.85/datum.n)", "as": "x"}],
      "layer": [
       {"mark": {"type": "circle", "size": 55, "stroke": "#111", "strokeWidth": 0.8, "opacity": 1}, "encoding": {"color": {"field": "g", "type": "nominal", "scale": {"domain": [0,1,2,3], "range": ["#f590d6","#0a7e78","#f7941d","#78d2f5"]}, "legend": null}}},
       {"transform": [{"filter": "datum.m==1"}], "mark": {"type": "point", "shape": "M-0.6,-0.6L0.6,0.6M-0.6,0.6L0.6,-0.6", "size": 45, "filled": false, "stroke": "#333", "strokeWidth": 1}}
      ]},
     {"data": {"name": "st"}, "transform": [{"filter": "datum.p=='A'"}], "mark": {"type": "rule", "strokeWidth": 2, "color": "#111"}, "encoding": {"y": {"field": "lo", "type": "quantitative"}, "y2": {"field": "hi"}}},
     {"data": {"name": "st"}, "transform": [{"filter": "datum.p=='A'"}], "mark": {"type": "tick", "orient": "horizontal", "size": 20, "thickness": 2.5, "color": "#111"}},
     {"data": {"name": "st"}, "transform": [{"filter": "datum.p=='A'"}, {"fold": ["hi", "lo"], "as": ["k", "yv"]}], "mark": {"type": "tick", "orient": "horizontal", "size": 12, "thickness": 2.5, "color": "#111"}, "encoding": {"y": {"field": "yv", "type": "quantitative"}}},
     {"data": {"name": "br"}, "transform": [{"filter": "datum.p=='A'"}], "mark": {"type": "rule", "strokeWidth": 1.5, "color": "#111", "strokeCap": "square"}, "encoding": {"x": {"field": "a", "type": "quantitative"}, "x2": {"field": "b"}}},
     {"data": {"name": "br"}, "transform": [{"filter": "datum.p=='A'"}, {"fold": ["a", "b"], "as": ["k", "xv"]}], "mark": {"type": "rule", "strokeWidth": 1.5, "color": "#111", "y2Offset": 9}, "encoding": {"x": {"field": "xv", "type": "quantitative"}, "y2": {"field": "y"}}},
     {"data": {"name": "br"}, "transform": [{"filter": "datum.p=='A'"}, {"calculate": "(datum.a+datum.b)/2", "as": "x"}], "mark": {"type": "text", "baseline": "bottom", "dy": -5, "fontSize": 9, "color": "#222"}, "encoding": {"text": {"field": "t"}}}
    ]},
   {"width": 143, "height": 186, "title": {"text": "B", "dx": -34, "dy": 14},
    "encoding": {"x": {"field": "x", "type": "quantitative", "scale": {"domain": [-0.79, 3.72], "nice": false, "zero": false}, "axis": {"values": [0,1,2,3], "title": null, "labelExpr": "['healthy controls','non-COVID-19 (mild symptoms)','COVID-19 (mild symptoms)','COVID-19 (critical)'][datum.value]"}},
                 "y": {"field": "y", "type": "quantitative", "scale": {"domain": [0, 5.14], "nice": false, "zero": false}, "axis": {"values": [0,1,2,3,4,5], "title": "Relative MUC4 mRNA expression"}}},
    "layer": [
     {"data": {"values": [{"v": 0}]}, "mark": {"type": "rule", "strokeWidth": 1.5, "color": "#111"}, "encoding": {"x": {"value": 0}, "y": {"datum": 0, "type": "quantitative"}, "y2": {"datum": 5}}},
     {"data": {"name": "pts"}, "transform": [{"filter": "datum.p=='B'"}, {"calculate": "floor(datum.y/0.17)", "as": "b"}, {"window": [{"op": "row_number", "as": "r"}, {"op": "count", "as": "n"}], "groupby": ["g", "b"], "frame": [null, null]}, {"calculate": "datum.g+((datum.r%2==0?1:-1)*floor(datum.r/2)-(datum.n%2==0?0.5:0))*min(0.2,0.85/datum.n)", "as": "x"}],
      "mark": {"type": "circle", "size": 55, "stroke": "#111", "strokeWidth": 0.8, "opacity": 1}, "encoding": {"color": {"field": "g", "type": "nominal", "scale": {"domain": [0,1,2,3], "range": ["#f590d6","#0a7e78","#f7941d","#78d2f5"]}, "legend": null}}},
     {"data": {"name": "st"}, "transform": [{"filter": "datum.p=='B'"}], "mark": {"type": "rule", "strokeWidth": 2, "color": "#111"}, "encoding": {"y": {"field": "lo", "type": "quantitative"}, "y2": {"field": "hi"}}},
     {"data": {"name": "st"}, "transform": [{"filter": "datum.p=='B'"}], "mark": {"type": "tick", "orient": "horizontal", "size": 20, "thickness": 2.5, "color": "#111"}},
     {"data": {"name": "st"}, "transform": [{"filter": "datum.p=='B'"}, {"fold": ["hi", "lo"], "as": ["k", "yv"]}], "mark": {"type": "tick", "orient": "horizontal", "size": 12, "thickness": 2.5, "color": "#111"}, "encoding": {"y": {"field": "yv", "type": "quantitative"}}},
     {"data": {"name": "br"}, "transform": [{"filter": "datum.p=='B'"}], "mark": {"type": "rule", "strokeWidth": 1.5, "color": "#111", "strokeCap": "square"}, "encoding": {"x": {"field": "a", "type": "quantitative"}, "x2": {"field": "b"}}},
     {"data": {"name": "br"}, "transform": [{"filter": "datum.p=='B'"}, {"fold": ["a", "b"], "as": ["k", "xv"]}], "mark": {"type": "rule", "strokeWidth": 1.5, "color": "#111", "y2Offset": 9}, "encoding": {"x": {"field": "xv", "type": "quantitative"}, "y2": {"field": "y"}}},
     {"data": {"name": "br"}, "transform": [{"filter": "datum.p=='B'"}, {"calculate": "(datum.a+datum.b)/2", "as": "x"}], "mark": {"type": "text", "baseline": "bottom", "dy": -5, "fontSize": 9, "color": "#222"}, "encoding": {"text": {"field": "t"}}}
    ]},
   {"width": 137, "height": 186, "title": {"text": "C", "dx": -42, "dy": 17},
    "encoding": {"x": {"field": "x", "type": "quantitative", "scale": {"domain": [-0.72, 3.74], "nice": false, "zero": false}, "axis": {"values": [0,1,2,3], "title": null, "labelExpr": "['healthy controls','non-COVID-19 (mild symptoms)','COVID-19 (mild symptoms)','COVID-19 (critical)'][datum.value]"}},
                 "y": {"field": "y", "type": "quantitative", "scale": {"domain": [0, 15.76], "nice": false, "zero": false}, "axis": {"values": [0,3,6,9,12,15], "title": "Relative MUC13 mRNA expression"}}},
    "layer": [
     {"data": {"values": [{"v": 0}]}, "mark": {"type": "rule", "strokeWidth": 1.5, "color": "#111"}, "encoding": {"x": {"value": 0}, "y": {"datum": 0, "type": "quantitative"}, "y2": {"datum": 15}}},
     {"data": {"name": "pts"}, "transform": [{"filter": "datum.p=='C'"}, {"calculate": "floor(datum.y/0.5)", "as": "b"}, {"window": [{"op": "row_number", "as": "r"}, {"op": "count", "as": "n"}], "groupby": ["g", "b"], "frame": [null, null]}, {"calculate": "datum.g+((datum.r%2==0?1:-1)*floor(datum.r/2)-(datum.n%2==0?0.5:0))*min(0.2,0.85/datum.n)", "as": "x"}],
      "mark": {"type": "circle", "size": 55, "stroke": "#111", "strokeWidth": 0.8, "opacity": 1}, "encoding": {"color": {"field": "g", "type": "nominal", "scale": {"domain": [0,1,2,3], "range": ["#f590d6","#0a7e78","#f7941d","#78d2f5"]}, "legend": null}}},
     {"data": {"name": "st"}, "transform": [{"filter": "datum.p=='C'"}], "mark": {"type": "rule", "strokeWidth": 2, "color": "#111"}, "encoding": {"y": {"field": "lo", "type": "quantitative"}, "y2": {"field": "hi"}}},
     {"data": {"name": "st"}, "transform": [{"filter": "datum.p=='C'"}], "mark": {"type": "tick", "orient": "horizontal", "size": 20, "thickness": 2.5, "color": "#111"}},
     {"data": {"name": "st"}, "transform": [{"filter": "datum.p=='C'"}, {"fold": ["hi", "lo"], "as": ["k", "yv"]}], "mark": {"type": "tick", "orient": "horizontal", "size": 12, "thickness": 2.5, "color": "#111"}, "encoding": {"y": {"field": "yv", "type": "quantitative"}}},
     {"data": {"name": "br"}, "transform": [{"filter": "datum.p=='C'"}], "mark": {"type": "rule", "strokeWidth": 1.5, "color": "#111", "strokeCap": "square"}, "encoding": {"x": {"field": "a", "type": "quantitative"}, "x2": {"field": "b"}}},
     {"data": {"name": "br"}, "transform": [{"filter": "datum.p=='C'"}, {"fold": ["a", "b"], "as": ["k", "xv"]}], "mark": {"type": "rule", "strokeWidth": 1.5, "color": "#111", "y2Offset": 9}, "encoding": {"x": {"field": "xv", "type": "quantitative"}, "y2": {"field": "y"}}},
     {"data": {"name": "br"}, "transform": [{"filter": "datum.p=='C'"}, {"calculate": "(datum.a+datum.b)/2", "as": "x"}], "mark": {"type": "text", "baseline": "bottom", "dy": -5, "fontSize": 9, "color": "#222"}, "encoding": {"text": {"field": "t"}}}
    ]},
   {"width": 133, "height": 186, "title": {"text": "D", "dx": -37, "dy": 11},
    "encoding": {"x": {"field": "x", "type": "quantitative", "scale": {"domain": [-0.55, 3.52], "nice": false, "zero": false}, "axis": {"values": [0,1,2,3], "title": null, "labelExpr": "['healthy controls','non-COVID-19 (mild symptoms)','COVID-19 (mild symptoms)','COVID-19 (critical)'][datum.value]"}},
                 "y": {"field": "y", "type": "quantitative", "scale": {"domain": [0, 8.12], "nice": false, "zero": false}, "axis": {"values": [0,2,4,6,8], "title": "Relative MUC16 mRNA expression"}}},
    "layer": [
     {"data": {"values": [{"v": 0}]}, "mark": {"type": "rule", "strokeWidth": 1.5, "color": "#111"}, "encoding": {"x": {"value": 0}, "y": {"datum": 0, "type": "quantitative"}, "y2": {"datum": 8}}},
     {"data": {"name": "pts"}, "transform": [{"filter": "datum.p=='D'"}, {"calculate": "floor(datum.y/0.26)", "as": "b"}, {"window": [{"op": "row_number", "as": "r"}, {"op": "count", "as": "n"}], "groupby": ["g", "b"], "frame": [null, null]}, {"calculate": "datum.g+((datum.r%2==0?1:-1)*floor(datum.r/2)-(datum.n%2==0?0.5:0))*min(0.2,0.85/datum.n)", "as": "x"}],
      "mark": {"type": "circle", "size": 55, "stroke": "#111", "strokeWidth": 0.8, "opacity": 1}, "encoding": {"color": {"field": "g", "type": "nominal", "scale": {"domain": [0,1,2,3], "range": ["#f590d6","#0a7e78","#f7941d","#78d2f5"]}, "legend": null}}},
     {"data": {"name": "st"}, "transform": [{"filter": "datum.p=='D'"}], "mark": {"type": "rule", "strokeWidth": 2, "color": "#111"}, "encoding": {"y": {"field": "lo", "type": "quantitative"}, "y2": {"field": "hi"}}},
     {"data": {"name": "st"}, "transform": [{"filter": "datum.p=='D'"}], "mark": {"type": "tick", "orient": "horizontal", "size": 20, "thickness": 2.5, "color": "#111"}},
     {"data": {"name": "st"}, "transform": [{"filter": "datum.p=='D'"}, {"fold": ["hi", "lo"], "as": ["k", "yv"]}], "mark": {"type": "tick", "orient": "horizontal", "size": 12, "thickness": 2.5, "color": "#111"}, "encoding": {"y": {"field": "yv", "type": "quantitative"}}},
     {"data": {"name": "br"}, "transform": [{"filter": "datum.p=='D'"}], "mark": {"type": "rule", "strokeWidth": 1.5, "color": "#111", "strokeCap": "square"}, "encoding": {"x": {"field": "a", "type": "quantitative"}, "x2": {"field": "b"}}},
     {"data": {"name": "br"}, "transform": [{"filter": "datum.p=='D'"}, {"fold": ["a", "b"], "as": ["k", "xv"]}], "mark": {"type": "rule", "strokeWidth": 1.5, "color": "#111", "y2Offset": 9}, "encoding": {"x": {"field": "xv", "type": "quantitative"}, "y2": {"field": "y"}}},
     {"data": {"name": "br"}, "transform": [{"filter": "datum.p=='D'"}, {"calculate": "(datum.a+datum.b)/2", "as": "x"}], "mark": {"type": "text", "baseline": "bottom", "dy": -5, "fontSize": 9, "color": "#222"}, "encoding": {"text": {"field": "t"}}}
    ]}
  ]},
  {"spacing": 48, "bounds": "flush", "hconcat": [
   {"width": 133, "height": 169, "title": {"text": "E", "dx": -34, "dy": 15},
    "encoding": {"x": {"field": "x", "type": "quantitative", "scale": {"domain": [-0.82, 3.38], "nice": false, "zero": false}, "axis": {"values": [0,1,2,3], "title": null, "labelExpr": "['healthy controls','non-COVID-19 (mild symptoms)','COVID-19 (mild symptoms)','COVID-19 (critical)'][datum.value]"}},
                 "y": {"field": "y", "type": "quantitative", "scale": {"domain": [0, 5.83], "nice": false, "zero": false}, "axis": {"values": [0,1,2,3,4,5], "title": "Relative MUC20 mRNA expression"}}},
    "layer": [
     {"data": {"values": [{"v": 0}]}, "mark": {"type": "rule", "strokeWidth": 1.5, "color": "#111"}, "encoding": {"x": {"value": 0}, "y": {"datum": 0, "type": "quantitative"}, "y2": {"datum": 5}}},
     {"data": {"name": "pts"}, "transform": [{"filter": "datum.p=='E'"}, {"calculate": "floor(datum.y/0.21)", "as": "b"}, {"window": [{"op": "row_number", "as": "r"}, {"op": "count", "as": "n"}], "groupby": ["g", "b"], "frame": [null, null]}, {"calculate": "datum.g+((datum.r%2==0?1:-1)*floor(datum.r/2)-(datum.n%2==0?0.5:0))*min(0.2,0.85/datum.n)", "as": "x"}],
      "mark": {"type": "circle", "size": 55, "stroke": "#111", "strokeWidth": 0.8, "opacity": 1}, "encoding": {"color": {"field": "g", "type": "nominal", "scale": {"domain": [0,1,2,3], "range": ["#f590d6","#0a7e78","#f7941d","#78d2f5"]}, "legend": null}}},
     {"data": {"name": "st"}, "transform": [{"filter": "datum.p=='E'"}], "mark": {"type": "rule", "strokeWidth": 2, "color": "#111"}, "encoding": {"y": {"field": "lo", "type": "quantitative"}, "y2": {"field": "hi"}}},
     {"data": {"name": "st"}, "transform": [{"filter": "datum.p=='E'"}], "mark": {"type": "tick", "orient": "horizontal", "size": 20, "thickness": 2.5, "color": "#111"}},
     {"data": {"name": "st"}, "transform": [{"filter": "datum.p=='E'"}, {"fold": ["hi", "lo"], "as": ["k", "yv"]}], "mark": {"type": "tick", "orient": "horizontal", "size": 12, "thickness": 2.5, "color": "#111"}, "encoding": {"y": {"field": "yv", "type": "quantitative"}}},
     {"data": {"name": "br"}, "transform": [{"filter": "datum.p=='E'"}], "mark": {"type": "rule", "strokeWidth": 1.5, "color": "#111", "strokeCap": "square"}, "encoding": {"x": {"field": "a", "type": "quantitative"}, "x2": {"field": "b"}}},
     {"data": {"name": "br"}, "transform": [{"filter": "datum.p=='E'"}, {"fold": ["a", "b"], "as": ["k", "xv"]}], "mark": {"type": "rule", "strokeWidth": 1.5, "color": "#111", "y2Offset": 9}, "encoding": {"x": {"field": "xv", "type": "quantitative"}, "y2": {"field": "y"}}},
     {"data": {"name": "br"}, "transform": [{"filter": "datum.p=='E'"}, {"calculate": "(datum.a+datum.b)/2", "as": "x"}], "mark": {"type": "text", "baseline": "bottom", "dy": -5, "fontSize": 9, "color": "#222"}, "encoding": {"text": {"field": "t"}}}
    ]},
   {"width": 137, "height": 169, "title": {"text": "F", "dx": -30, "dy": 27},
    "encoding": {"x": {"field": "x", "type": "quantitative", "scale": {"domain": [-0.89, 3.63], "nice": false, "zero": false}, "axis": {"values": [0,1,2,3], "title": null, "labelExpr": "['healthy controls','non-COVID-19 (mild symptoms)','COVID-19 (mild symptoms)','COVID-19 (critical)'][datum.value]"}},
                 "y": {"field": "y", "type": "quantitative", "scale": {"domain": [0, 8.09], "nice": false, "zero": false}, "axis": {"values": [0,2,4,6,8], "title": "Relative MUC21 mRNA expression"}}},
    "layer": [
     {"data": {"values": [{"v": 0}]}, "mark": {"type": "rule", "strokeWidth": 1.5, "color": "#111"}, "encoding": {"x": {"value": 0}, "y": {"datum": 0, "type": "quantitative"}, "y2": {"datum": 8}}},
     {"data": {"name": "pts"}, "transform": [{"filter": "datum.p=='F'"}, {"calculate": "floor(datum.y/0.29)", "as": "b"}, {"window": [{"op": "row_number", "as": "r"}, {"op": "count", "as": "n"}], "groupby": ["g", "b"], "frame": [null, null]}, {"calculate": "datum.g+((datum.r%2==0?1:-1)*floor(datum.r/2)-(datum.n%2==0?0.5:0))*min(0.2,0.85/datum.n)", "as": "x"}],
      "mark": {"type": "circle", "size": 55, "stroke": "#111", "strokeWidth": 0.8, "opacity": 1}, "encoding": {"color": {"field": "g", "type": "nominal", "scale": {"domain": [0,1,2,3], "range": ["#f590d6","#0a7e78","#f7941d","#78d2f5"]}, "legend": null}}},
     {"data": {"name": "st"}, "transform": [{"filter": "datum.p=='F'"}], "mark": {"type": "rule", "strokeWidth": 2, "color": "#111"}, "encoding": {"y": {"field": "lo", "type": "quantitative"}, "y2": {"field": "hi"}}},
     {"data": {"name": "st"}, "transform": [{"filter": "datum.p=='F'"}], "mark": {"type": "tick", "orient": "horizontal", "size": 20, "thickness": 2.5, "color": "#111"}},
     {"data": {"name": "st"}, "transform": [{"filter": "datum.p=='F'"}, {"fold": ["hi", "lo"], "as": ["k", "yv"]}], "mark": {"type": "tick", "orient": "horizontal", "size": 12, "thickness": 2.5, "color": "#111"}, "encoding": {"y": {"field": "yv", "type": "quantitative"}}},
     {"data": {"name": "br"}, "transform": [{"filter": "datum.p=='F'"}], "mark": {"type": "rule", "strokeWidth": 1.5, "color": "#111", "strokeCap": "square"}, "encoding": {"x": {"field": "a", "type": "quantitative"}, "x2": {"field": "b"}}},
     {"data": {"name": "br"}, "transform": [{"filter": "datum.p=='F'"}, {"fold": ["a", "b"], "as": ["k", "xv"]}], "mark": {"type": "rule", "strokeWidth": 1.5, "color": "#111", "y2Offset": 9}, "encoding": {"x": {"field": "xv", "type": "quantitative"}, "y2": {"field": "y"}}},
     {"data": {"name": "br"}, "transform": [{"filter": "datum.p=='F'"}, {"calculate": "(datum.a+datum.b)/2", "as": "x"}], "mark": {"type": "text", "baseline": "bottom", "dy": -5, "fontSize": 9, "color": "#222"}, "encoding": {"text": {"field": "t"}}}
    ]}
  ]}
 ]}
]},
{"spacing": 17, "vconcat": [
 {"spacing": 0, "hconcat": [
  {"width": 201, "height": 25, "data": {"values": []}, "mark": {"type": "point", "opacity": 0}},
  {"width": 242, "height": 25, "data": {"values": [{"t": "Secreted mucins"}]}, "layer": [
   {"mark": {"type": "rect", "color": {"gradient": "linear", "x1": 0, "y1": 0, "x2": 0, "y2": 1, "stops": [{"offset": 0, "color": "#e3f1d8"}, {"offset": 1, "color": "#bcdca6"}]}}, "encoding": {"x": {"value": 0}, "x2": {"value": "width"}, "y": {"value": 0}, "y2": {"value": "height"}}},
   {"mark": {"type": "text", "fontSize": 13, "color": "#222"}, "encoding": {"text": {"field": "t"}}}
  ]}
 ]},
 {"spacing": 59, "bounds": "flush", "hconcat": [
   {"width": 131, "height": 174, "title": {"text": "G", "dx": -35, "dy": 22},
    "encoding": {"x": {"field": "x", "type": "quantitative", "scale": {"domain": [-0.6, 3.53], "nice": false, "zero": false}, "axis": {"values": [0,1,2,3], "title": null, "labelExpr": "['healthy controls','non-COVID-19 (mild symptoms)','COVID-19 (mild symptoms)','COVID-19 (critical)'][datum.value]"}},
                 "y": {"field": "y", "type": "quantitative", "scale": {"domain": [0, 17.18], "nice": false, "zero": false}, "axis": {"values": [0,3,6,9,12,15], "title": "Relative MUC2 mRNA expression"}}},
    "layer": [
     {"data": {"values": [{"v": 0}]}, "mark": {"type": "rule", "strokeWidth": 1.5, "color": "#111"}, "encoding": {"x": {"value": 0}, "y": {"datum": 0, "type": "quantitative"}, "y2": {"datum": 15}}},
     {"data": {"name": "pts"}, "transform": [{"filter": "datum.p=='G'"}, {"calculate": "floor(datum.y/0.6)", "as": "b"}, {"window": [{"op": "row_number", "as": "r"}, {"op": "count", "as": "n"}], "groupby": ["g", "b"], "frame": [null, null]}, {"calculate": "datum.g+((datum.r%2==0?1:-1)*floor(datum.r/2)-(datum.n%2==0?0.5:0))*min(0.2,0.85/datum.n)", "as": "x"}],
      "mark": {"type": "circle", "size": 55, "stroke": "#111", "strokeWidth": 0.8, "opacity": 1}, "encoding": {"color": {"field": "g", "type": "nominal", "scale": {"domain": [0,1,2,3], "range": ["#f590d6","#0a7e78","#f7941d","#78d2f5"]}, "legend": null}}},
     {"data": {"name": "st"}, "transform": [{"filter": "datum.p=='G'"}], "mark": {"type": "rule", "strokeWidth": 2, "color": "#111"}, "encoding": {"y": {"field": "lo", "type": "quantitative"}, "y2": {"field": "hi"}}},
     {"data": {"name": "st"}, "transform": [{"filter": "datum.p=='G'"}], "mark": {"type": "tick", "orient": "horizontal", "size": 20, "thickness": 2.5, "color": "#111"}},
     {"data": {"name": "st"}, "transform": [{"filter": "datum.p=='G'"}, {"fold": ["hi", "lo"], "as": ["k", "yv"]}], "mark": {"type": "tick", "orient": "horizontal", "size": 12, "thickness": 2.5, "color": "#111"}, "encoding": {"y": {"field": "yv", "type": "quantitative"}}},
     {"data": {"name": "br"}, "transform": [{"filter": "datum.p=='G'"}], "mark": {"type": "rule", "strokeWidth": 1.5, "color": "#111", "strokeCap": "square"}, "encoding": {"x": {"field": "a", "type": "quantitative"}, "x2": {"field": "b"}}},
     {"data": {"name": "br"}, "transform": [{"filter": "datum.p=='G'"}, {"fold": ["a", "b"], "as": ["k", "xv"]}], "mark": {"type": "rule", "strokeWidth": 1.5, "color": "#111", "y2Offset": 9}, "encoding": {"x": {"field": "xv", "type": "quantitative"}, "y2": {"field": "y"}}},
     {"data": {"name": "br"}, "transform": [{"filter": "datum.p=='G'"}, {"calculate": "(datum.a+datum.b)/2", "as": "x"}], "mark": {"type": "text", "baseline": "bottom", "dy": -5, "fontSize": 9, "color": "#222"}, "encoding": {"text": {"field": "t"}}}
    ]},
   {"width": 120, "height": 174, "title": {"text": "H", "dx": -39, "dy": 6},
    "encoding": {"x": {"field": "x", "type": "quantitative", "scale": {"domain": [-0.62, 3.52], "nice": false, "zero": false}, "axis": {"values": [0,1,2,3], "title": null, "labelFontSize": 9.5, "labelExpr": "['healthy controls','non-COVID-19 (mild symptoms)','COVID-19 (mild symptoms)','COVID-19 (critical)'][datum.value]"}},
                 "y": {"field": "y", "type": "quantitative", "scale": {"domain": [0, 32.04], "nice": false, "zero": false}, "axis": {"values": [0,10,20,30], "titleFontSize": 8.5, "title": "Relative MUC5AC mRNA expression"}}},
    "layer": [
     {"data": {"values": [{"v": 0}]}, "mark": {"type": "rule", "strokeWidth": 1.5, "color": "#111"}, "encoding": {"x": {"value": 0}, "y": {"datum": 0, "type": "quantitative"}, "y2": {"datum": 30}}},
     {"data": {"name": "pts"}, "transform": [{"filter": "datum.p=='H'"}, {"calculate": "floor(datum.y/1.1)", "as": "b"}, {"window": [{"op": "row_number", "as": "r"}, {"op": "count", "as": "n"}], "groupby": ["g", "b"], "frame": [null, null]}, {"calculate": "datum.g+((datum.r%2==0?1:-1)*floor(datum.r/2)-(datum.n%2==0?0.5:0))*min(0.2,0.85/datum.n)", "as": "x"}],
      "mark": {"type": "circle", "size": 55, "stroke": "#111", "strokeWidth": 0.8, "opacity": 1}, "encoding": {"color": {"field": "g", "type": "nominal", "scale": {"domain": [0,1,2,3], "range": ["#f590d6","#0a7e78","#f7941d","#78d2f5"]}, "legend": null}}},
     {"data": {"name": "st"}, "transform": [{"filter": "datum.p=='H'"}], "mark": {"type": "rule", "strokeWidth": 2, "color": "#111"}, "encoding": {"y": {"field": "lo", "type": "quantitative"}, "y2": {"field": "hi"}}},
     {"data": {"name": "st"}, "transform": [{"filter": "datum.p=='H'"}], "mark": {"type": "tick", "orient": "horizontal", "size": 20, "thickness": 2.5, "color": "#111"}},
     {"data": {"name": "st"}, "transform": [{"filter": "datum.p=='H'"}, {"fold": ["hi", "lo"], "as": ["k", "yv"]}], "mark": {"type": "tick", "orient": "horizontal", "size": 12, "thickness": 2.5, "color": "#111"}, "encoding": {"y": {"field": "yv", "type": "quantitative"}}}
    ]},
   {"width": 126, "height": 174, "title": {"text": "I", "dx": -34, "dy": 18},
    "encoding": {"x": {"field": "x", "type": "quantitative", "scale": {"domain": [-0.72, 3.62], "nice": false, "zero": false}, "axis": {"values": [0,1,2,3], "title": null, "labelFontSize": 9.5, "labelExpr": "['healthy controls','non-COVID-19 (mild symptoms)','COVID-19 (mild symptoms)','COVID-19 (critical)'][datum.value]"}},
                 "y": {"field": "y", "type": "quantitative", "scale": {"domain": [0, 50.88], "nice": false, "zero": false}, "axis": {"values": [0,10,20,30,40,50], "titleFontSize": 8.5, "title": "Relative MUC5B mRNA expression"}}},
    "layer": [
     {"data": {"values": [{"v": 0}]}, "mark": {"type": "rule", "strokeWidth": 1.5, "color": "#111"}, "encoding": {"x": {"value": 0}, "y": {"datum": 0, "type": "quantitative"}, "y2": {"datum": 50}}},
     {"data": {"name": "pts"}, "transform": [{"filter": "datum.p=='I'"}, {"calculate": "floor(datum.y/1.75)", "as": "b"}, {"window": [{"op": "row_number", "as": "r"}, {"op": "count", "as": "n"}], "groupby": ["g", "b"], "frame": [null, null]}, {"calculate": "datum.g+((datum.r%2==0?1:-1)*floor(datum.r/2)-(datum.n%2==0?0.5:0))*min(0.2,0.85/datum.n)", "as": "x"}],
      "mark": {"type": "circle", "size": 55, "stroke": "#111", "strokeWidth": 0.8, "opacity": 1}, "encoding": {"color": {"field": "g", "type": "nominal", "scale": {"domain": [0,1,2,3], "range": ["#f590d6","#0a7e78","#f7941d","#78d2f5"]}, "legend": null}}},
     {"data": {"name": "st"}, "transform": [{"filter": "datum.p=='I'"}], "mark": {"type": "rule", "strokeWidth": 2, "color": "#111"}, "encoding": {"y": {"field": "lo", "type": "quantitative"}, "y2": {"field": "hi"}}},
     {"data": {"name": "st"}, "transform": [{"filter": "datum.p=='I'"}], "mark": {"type": "tick", "orient": "horizontal", "size": 20, "thickness": 2.5, "color": "#111"}},
     {"data": {"name": "st"}, "transform": [{"filter": "datum.p=='I'"}, {"fold": ["hi", "lo"], "as": ["k", "yv"]}], "mark": {"type": "tick", "orient": "horizontal", "size": 12, "thickness": 2.5, "color": "#111"}, "encoding": {"y": {"field": "yv", "type": "quantitative"}}}
    ]},
   {"width": 128, "height": 174, "title": {"text": "J", "dx": -36, "dy": 18},
    "encoding": {"x": {"field": "x", "type": "quantitative", "scale": {"domain": [-0.77, 3.69], "nice": false, "zero": false}, "axis": {"values": [0,1,2,3], "title": null, "labelFontSize": 9.5, "labelExpr": "['healthy controls','non-COVID-19 (mild symptoms)','COVID-19 (mild symptoms)','COVID-19 (critical)'][datum.value]"}},
                 "y": {"field": "y", "type": "quantitative", "scale": {"domain": [0, 40.65], "nice": false, "zero": false}, "axis": {"values": [0,10,20,30,40], "titleFontSize": 8.5, "title": "Relative MUC6 mRNA expression"}}},
    "layer": [
     {"data": {"values": [{"v": 0}]}, "mark": {"type": "rule", "strokeWidth": 1.5, "color": "#111"}, "encoding": {"x": {"value": 0}, "y": {"datum": 0, "type": "quantitative"}, "y2": {"datum": 40}}},
     {"data": {"name": "pts"}, "transform": [{"filter": "datum.p=='J'"}, {"calculate": "floor(datum.y/1.4)", "as": "b"}, {"window": [{"op": "row_number", "as": "r"}, {"op": "count", "as": "n"}], "groupby": ["g", "b"], "frame": [null, null]}, {"calculate": "datum.g+((datum.r%2==0?1:-1)*floor(datum.r/2)-(datum.n%2==0?0.5:0))*min(0.2,0.85/datum.n)", "as": "x"}],
      "mark": {"type": "circle", "size": 55, "stroke": "#111", "strokeWidth": 0.8, "opacity": 1}, "encoding": {"color": {"field": "g", "type": "nominal", "scale": {"domain": [0,1,2,3], "range": ["#f590d6","#0a7e78","#f7941d","#78d2f5"]}, "legend": null}}},
     {"data": {"name": "st"}, "transform": [{"filter": "datum.p=='J'"}], "mark": {"type": "rule", "strokeWidth": 2, "color": "#111"}, "encoding": {"y": {"field": "lo", "type": "quantitative"}, "y2": {"field": "hi"}}},
     {"data": {"name": "st"}, "transform": [{"filter": "datum.p=='J'"}], "mark": {"type": "tick", "orient": "horizontal", "size": 20, "thickness": 2.5, "color": "#111"}},
     {"data": {"name": "st"}, "transform": [{"filter": "datum.p=='J'"}, {"fold": ["hi", "lo"], "as": ["k", "yv"]}], "mark": {"type": "tick", "orient": "horizontal", "size": 12, "thickness": 2.5, "color": "#111"}, "encoding": {"y": {"field": "yv", "type": "quantitative"}}}
    ]}
 ]}
]}
]
}
